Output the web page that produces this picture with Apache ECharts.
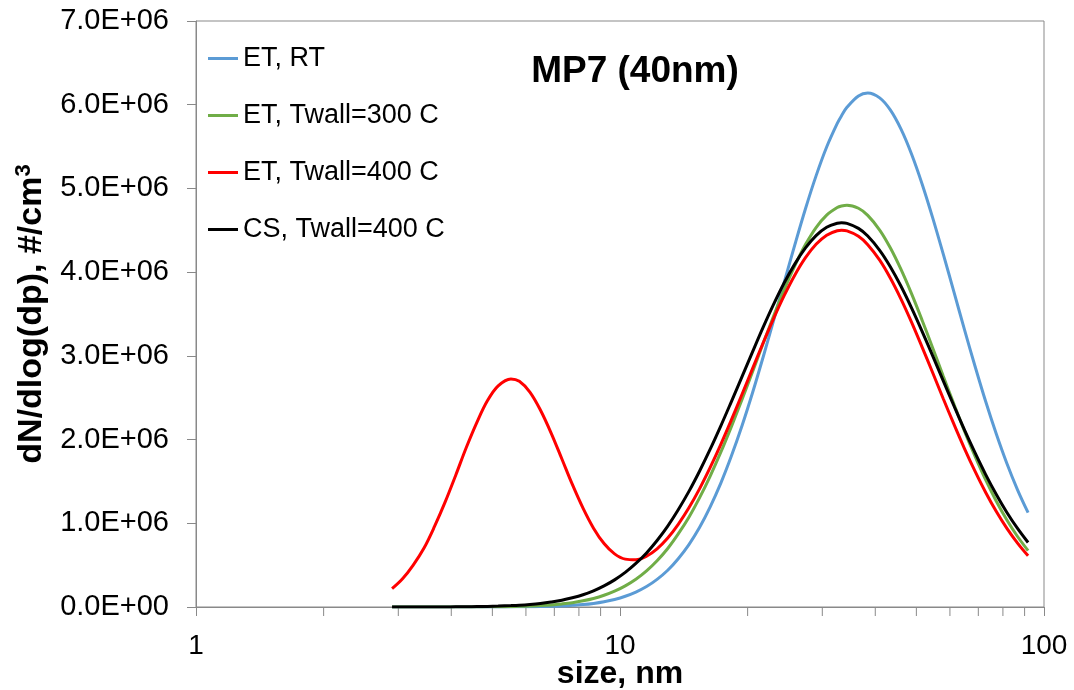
<!DOCTYPE html>
<html>
<head>
<meta charset="utf-8">
<title>MP7 (40nm)</title>
<script src="https://cdn.jsdelivr.net/npm/echarts@6/dist/echarts.min.js"></script>
<style>
html, body { margin: 0; padding: 0; background: #fff; }
#chart { width: 1074px; height: 690px; }
</style>
</head>
<body>
<div id="chart"></div>
<script>
// particle size, nm
var sizes = [2.90, 3.07, 3.25, 3.45, 3.65, 3.87, 4.10, 4.34, 4.60, 4.87,
             5.16, 5.53, 5.79, 6.13, 6.49, 6.88, 7.29, 7.72, 8.18, 8.66,
             9.17, 9.71, 10.29, 10.90, 11.55, 12.23, 12.96, 13.72, 14.54, 15.40,
             16.31, 17.28, 18.30, 19.39, 20.54, 21.75, 23.04, 24.40, 25.85, 27.38,
             29.00, 30.72, 32.54, 33.30, 34.30, 36.51, 38.40, 40.97, 43.40, 45.97,
             48.70, 51.58, 54.64, 57.87, 61.31, 64.93, 68.79, 72.86, 77.19, 81.75,
             86.61, 91.72];

// dN/dlog(dp) in units of 1E+06 #/cm3
var etRT = [0.000, 0.000, 0.000, 0.000, 0.000, 0.000, 0.000, 0.000, 0.000, 0.000,
            0.001, 0.001, 0.002, 0.003, 0.005, 0.008, 0.013, 0.020, 0.029, 0.043,
            0.063, 0.090, 0.128, 0.178, 0.244, 0.330, 0.439, 0.577, 0.746, 0.950,
            1.194, 1.477, 1.800, 2.162, 2.559, 2.983, 3.428, 3.880, 4.328, 4.757,
            5.150, 5.495, 5.777, 5.868, 5.969, 6.105, 6.140, 6.082, 5.938, 5.711,
            5.412, 5.054, 4.649, 4.215, 3.765, 3.313, 2.873, 2.454, 2.066, 1.714,
            1.400, 1.127];
var etTw300 = [0.000, 0.000, 0.000, 0.000, 0.000, 0.000, 0.001, 0.001, 0.001, 0.002,
               0.003, 0.006, 0.008, 0.012, 0.017, 0.025, 0.037, 0.052, 0.074, 0.102,
               0.140, 0.189, 0.253, 0.332, 0.432, 0.553, 0.699, 0.873, 1.073, 1.303,
               1.561, 1.846, 2.152, 2.476, 2.810, 3.147, 3.478, 3.792, 4.079, 4.329,
               4.533, 4.682, 4.773, 4.791, 4.800, 4.763, 4.678, 4.503, 4.291, 4.035,
               3.743, 3.426, 3.094, 2.757, 2.423, 2.101, 1.799, 1.518, 1.264, 1.040,
               0.842, 0.674];
var etTw400 = [0.220, 0.338, 0.498, 0.705, 0.959, 1.255, 1.577, 1.905, 2.209, 2.466,
               2.642, 2.725, 2.696, 2.567, 2.353, 2.078, 1.771, 1.464, 1.181, 0.942,
               0.758, 0.635, 0.572, 0.564, 0.607, 0.695, 0.824, 0.988, 1.185, 1.411,
               1.664, 1.940, 2.232, 2.538, 2.847, 3.154, 3.449, 3.722, 3.967, 4.173,
               4.333, 4.442, 4.495, 4.500, 4.493, 4.428, 4.328, 4.143, 3.930, 3.681,
               3.403, 3.105, 2.798, 2.488, 2.184, 1.893, 1.620, 1.368, 1.140, 0.939,
               0.763, 0.611];
var csTw400 = [0.000, 0.000, 0.000, 0.001, 0.001, 0.001, 0.002, 0.003, 0.005, 0.007,
               0.011, 0.017, 0.022, 0.031, 0.043, 0.060, 0.081, 0.110, 0.146, 0.193,
               0.252, 0.324, 0.413, 0.520, 0.646, 0.795, 0.967, 1.162, 1.381, 1.622,
               1.882, 2.161, 2.451, 2.748, 3.047, 3.339, 3.617, 3.873, 4.099, 4.289,
               4.436, 4.536, 4.584, 4.589, 4.582, 4.523, 4.432, 4.261, 4.065, 3.834,
               3.573, 3.293, 2.999, 2.701, 2.404, 2.115, 1.840, 1.582, 1.344, 1.129,
               0.938, 0.770];

var seriesNames = ['ET, RT', 'ET, Twall=300 C', 'ET, Twall=400 C', 'CS, Twall=400 C'];
var seriesColors = ['#5B9BD5', '#70AD47', '#FF0000', '#000000'];
var seriesValues = [etRT, etTw300, etTw400, csTw400];

// log axis minor tick positions (2..9 in each decade)
var minorTicks = [2, 3, 4, 5, 6, 7, 8, 9, 20, 30, 40, 50, 60, 70, 80, 90];

var UNIT = 1e6;
var FONT = '"Liberation Sans", Arial, sans-serif';
var AXIS_COLOR = '#898989';

function sci(v) {
    if (v === 0) return '0.0E+00';
    var p = v.toExponential(1).split('e');
    var e = parseInt(p[1], 10);
    var ee = String(Math.abs(e));
    if (ee.length < 2) ee = '0' + ee;
    return p[0] + 'E' + (e < 0 ? '-' : '+') + ee;
}

var series = [];
seriesValues.forEach(function (vals, k) {
    series.push({
        name: seriesNames[k],
        type: 'line',
        smooth: 0.35,
        showSymbol: false,
        lineStyle: { width: 3, color: seriesColors[k] },
        itemStyle: { color: seriesColors[k] },
        data: sizes.map(function (s, i) { return [s, vals[i] * UNIT]; })
    });
});

series.push({
    type: 'custom',
    silent: true,
    clip: false,
    data: minorTicks.map(function (v) { return [v, 0]; }),
    renderItem: function (params, api) {
        var p = api.coord([api.value(0), 0]);
        return {
            type: 'line',
            shape: { x1: p[0], y1: p[1], x2: p[0], y2: p[1] + 9 },
            style: { stroke: AXIS_COLOR, lineWidth: 1 }
        };
    }
});

var chart = echarts.init(document.getElementById('chart'));
chart.setOption({
    animation: false,
    title: {
        text: 'MP7 (40nm)',
        left: 630,
        top: 48,
        textAlign: 'center',
        textStyle: { fontFamily: FONT, fontSize: 37, fontWeight: 'bold', color: '#000' }
    },
    legend: {
        orient: 'vertical',
        left: 203,
        top: 40,
        icon: 'rect',
        itemWidth: 30,
        itemHeight: 3,
        itemGap: 30,
        textStyle: { fontFamily: FONT, fontSize: 27, color: '#000' },
        data: seriesNames
    },
    grid: {
        left: 196, right: 30, top: 21, bottom: 83,
        outerBoundsMode: 'none',
        show: true, borderColor: AXIS_COLOR, borderWidth: 1
    },
    xAxis: {
        type: 'log',
        logBase: 10,
        min: 1,
        max: 100,
        name: 'size, nm',
        nameLocation: 'middle',
        nameGap: 51,
        nameMoveOverlap: false,
        nameTextStyle: { fontFamily: FONT, fontSize: 32, fontWeight: 'bold', color: '#000' },
        axisLine: { lineStyle: { color: AXIS_COLOR } },
        axisTick: { length: 9, lineStyle: { color: AXIS_COLOR } },
        axisLabel: {
            margin: 25,
            fontFamily: FONT, fontSize: 28, color: '#000',
            formatter: function (v) { return String(Math.round(v)); }
        },
        splitLine: { show: false }
    },
    yAxis: {
        type: 'value',
        min: 0,
        max: 7 * UNIT,
        interval: UNIT,
        name: 'dN/dlog(dp), #/cm{sup|3}',
        nameLocation: 'middle',
        nameGap: 146,
        nameMoveOverlap: false,
        nameTextStyle: {
            fontFamily: FONT, fontSize: 34, fontWeight: 'bold', color: '#000',
            rich: {
                sup: { fontFamily: FONT, fontSize: 22, fontWeight: 'bold', color: '#000', verticalAlign: 'top', lineHeight: 37 }
            }
        },
        axisLine: { show: true, lineStyle: { color: AXIS_COLOR } },
        axisTick: { show: true, length: 9, lineStyle: { color: AXIS_COLOR } },
        axisLabel: {
            margin: 27,
            fontFamily: FONT, fontSize: 29, color: '#000',
            formatter: sci
        },
        splitLine: { show: false }
    },
    series: series
});
</script>
</body>
</html>
